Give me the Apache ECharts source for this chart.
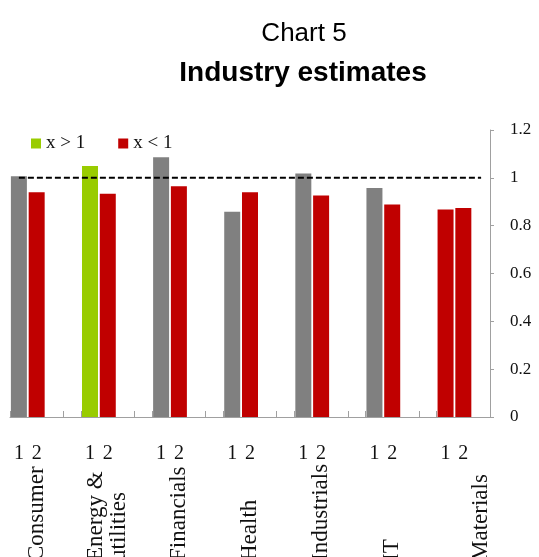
<!DOCTYPE html>
<html>
<head>
<meta charset="utf-8">
<script src="https://cdn.jsdelivr.net/npm/echarts@6/dist/echarts.min.js"></script>
<style>
  html, body { margin: 0; padding: 0; background: #fff; }
  #chart { width: 539px; height: 557px; }
</style>
</head>
<body>
<div id="chart"></div>
<script>
// Industry groups and the two estimates per group
const industries = ['Consumer', 'Energy &\nutilities', 'Financials', 'Health', 'Industrials', 'IT', 'Materials'];
const pairLabels = ['1', '2'];
const estimate1 = [1.007, 1.049, 1.086, 0.858, 1.018, 0.958, 0.868];
const estimate2 = [0.940, 0.933, 0.965, 0.940, 0.926, 0.889, 0.874];
// colour class of each bar: base = grey, above = green, below = red
const estimate1Class = ['base', 'above', 'base', 'base', 'base', 'base', 'below'];
const estimate2Class = ['below', 'below', 'below', 'below', 'below', 'below', 'below'];
const yTicks = [0, 0.2, 0.4, 0.6, 0.8, 1, 1.2];
const benchmark = 1;
const legendNames = { above: 'x > 1', below: 'x < 1' };
const chartTitle = 'Chart 5';
const chartSubtitle = 'Industry estimates';

// Each group takes four category slots: bar 1, bar 2 and two empty spacers
// (the final group keeps only one spacer).
const slotsPerGroup = 4;
const slotCount = industries.length * slotsPerGroup - 1;
const slotKeys = [];
const pairText = [];
const nameText = [];
for (let i = 0; i < slotCount; i++) {
  slotKeys.push('slot' + i);
  pairText.push('');
  nameText.push('');
}
const seriesData = { base: [], above: [], below: [] };
Object.keys(seriesData).forEach(k => { seriesData[k] = new Array(slotCount).fill(null); });

// slot offset (within a group) under which the industry name sits
const nameOffset = [1, 1, 1, 1, 1, 1, 2];

industries.forEach((name, g) => {
  const s = g * slotsPerGroup;
  pairText[s] = pairLabels[0];
  pairText[s + 1] = pairLabels[1];
  nameText[s + nameOffset[g]] = name;
  seriesData[estimate1Class[g]][s] = estimate1[g];
  seriesData[estimate2Class[g]][s + 1] = estimate2[g];
});
const benchmarkLine = slotKeys.map(() => benchmark);

const serif = 'Liberation Serif';
const axisGrey = '#a0a0a0';
const colours = { base: '#808080', above: '#99CC00', below: '#C00000' };

function barSeries(kind) {
  return {
    type: 'bar',
    name: legendNames[kind] || 'base',
    data: seriesData[kind],
    barWidth: 16,
    barGap: '-100%',
    itemStyle: { color: colours[kind] },
    emphasis: { disabled: true },
    animation: false
  };
}

const chart = echarts.init(document.getElementById('chart'), null, { renderer: 'canvas' });
chart.setOption({
  animation: false,
  backgroundColor: '#ffffff',
  graphic: [
    {
      type: 'text',
      x: 304,
      y: 21,
      style: {
        text: chartTitle,
        fontFamily: 'Liberation Sans',
        fontSize: 26,
        fontWeight: 'normal',
        fill: '#000',
        align: 'center',
        verticalAlign: 'top'
      }
    },
    {
      type: 'text',
      x: 303,
      y: 59,
      style: {
        text: chartSubtitle,
        fontFamily: 'Liberation Sans',
        fontSize: 28,
        fontWeight: 'bold',
        fill: '#000',
        align: 'center',
        verticalAlign: 'top'
      }
    }
  ],
  legend: {
    data: [legendNames.above, legendNames.below],
    left: 31,
    top: 134,
    padding: 0,
    icon: 'rect',
    itemWidth: 10,
    itemHeight: 10,
    itemGap: 33,
    textStyle: { fontFamily: serif, fontSize: 19, color: '#111' }
  },
  grid: { left: 10, right: 49, top: 130, bottom: 140, containLabel: false, outerBoundsMode: 'none' },
  xAxis: [
    {
      type: 'category',
      position: 'bottom',
      data: slotKeys,
      boundaryGap: true,
      axisLine: { show: true, lineStyle: { color: axisGrey, width: 1 } },
      axisTick: {
        show: true,
        inside: true,
        length: 6,
        interval: (i) => i % slotsPerGroup === 0 || i % slotsPerGroup === 3,
        lineStyle: { color: axisGrey }
      },
      axisLabel: {
        interval: 0,
        margin: 27,
        fontFamily: serif,
        fontSize: 20,
        color: '#111',
        formatter: (v, i) => pairText[i]
      },
      splitLine: { show: false }
    },
    {
      type: 'category',
      position: 'bottom',
      data: slotKeys,
      boundaryGap: true,
      axisLine: { show: false },
      axisTick: { show: false },
      axisLabel: {
        interval: 0,
        rotate: 90,
        align: 'left',
        verticalAlign: 'middle',
        margin: 144,
        padding: [0, 0, 9, 0],
        fontFamily: serif,
        fontSize: 23,
        lineHeight: 23,
        color: '#111',
        formatter: (v, i) => nameText[i]
      },
      splitLine: { show: false }
    }
  ],
  yAxis: {
    type: 'value',
    position: 'right',
    min: yTicks[0],
    max: yTicks[yTicks.length - 1],
    interval: yTicks[1] - yTicks[0],
    axisLine: { show: true, lineStyle: { color: axisGrey, width: 1 } },
    axisTick: { show: true, inside: false, length: 4, lineStyle: { color: axisGrey } },
    axisLabel: { margin: 20, fontFamily: serif, fontSize: 17, color: '#111' },
    splitLine: { show: false }
  },
  series: [
    barSeries('base'),
    barSeries('above'),
    barSeries('below'),
    {
      type: 'line',
      name: 'benchmark',
      data: benchmarkLine,
      symbol: 'none',
      z: 5,
      lineStyle: { color: '#000', width: 2, type: [6, 3] },
      emphasis: { disabled: true },
      animation: false
    }
  ]
});
</script>
</body>
</html>
